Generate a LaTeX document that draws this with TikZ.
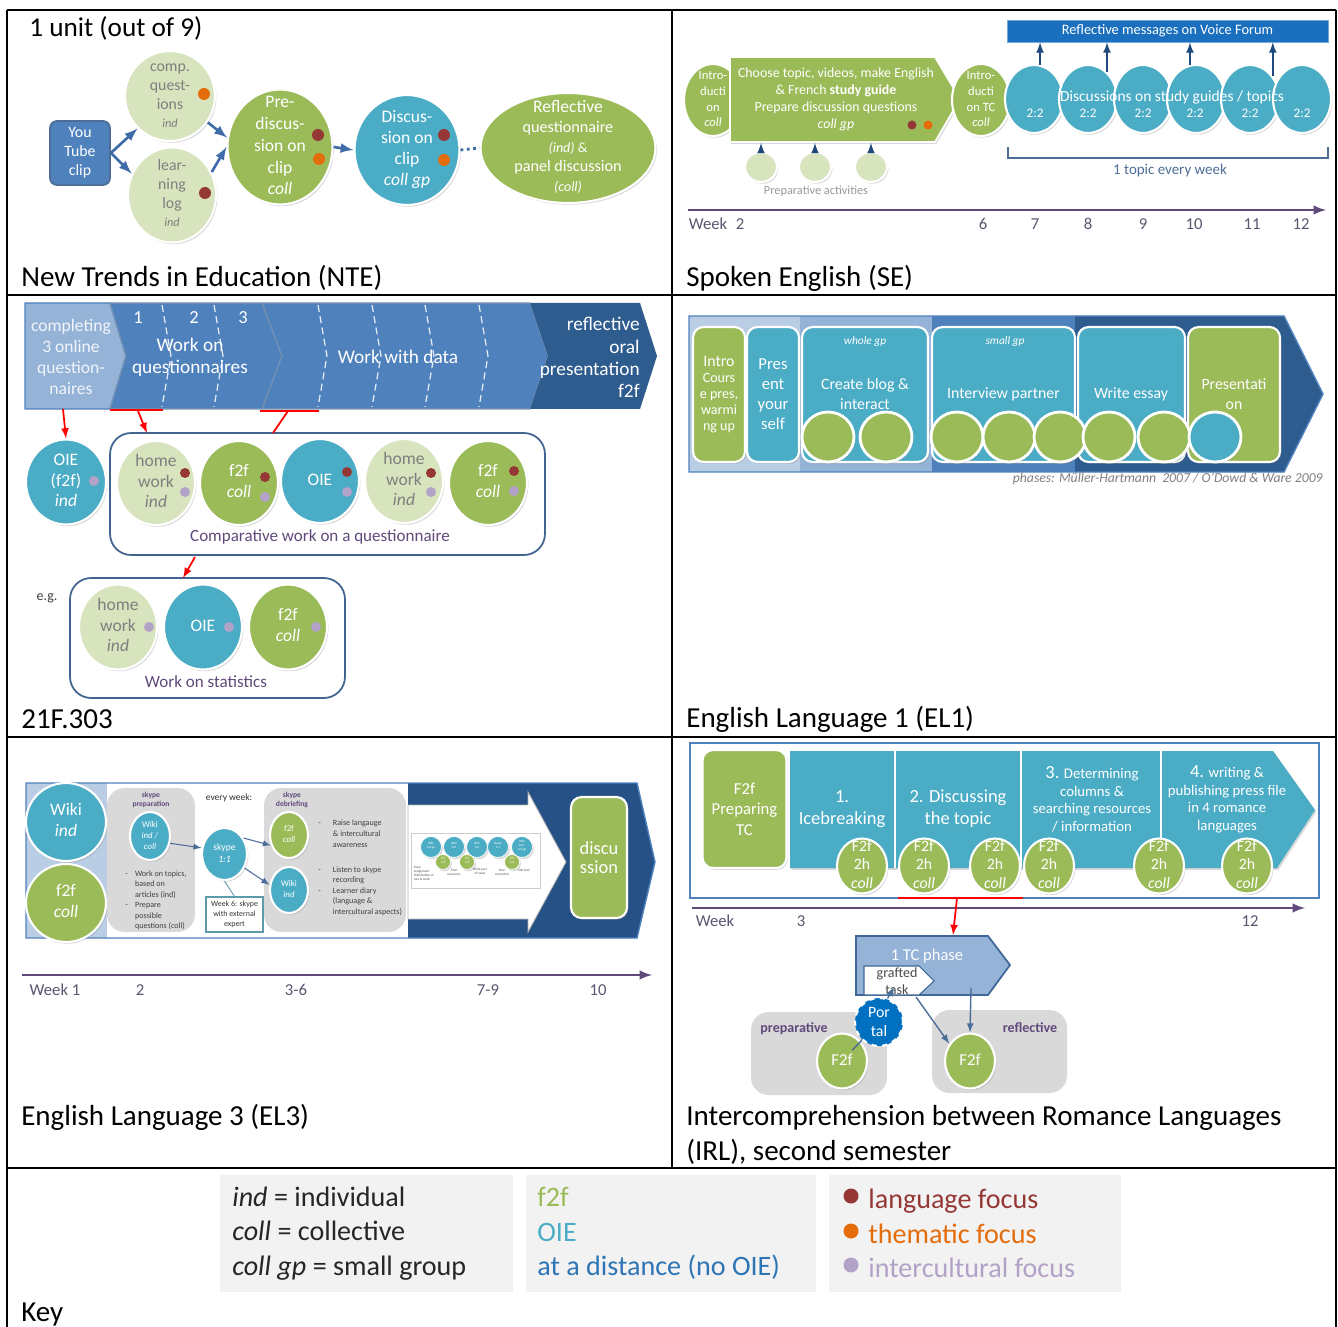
\documentclass[tikz,border=0pt]{standalone}
\usepackage{fontspec}
\setmainfont{Carlito}
\usepackage{tikz}
\usetikzlibrary{shapes,arrows,positioning,shadows}

\definecolor{cLeaf}{HTML}{9BBB59}
\definecolor{cPale}{HTML}{D7E4BD}
\definecolor{cSea}{HTML}{4BACC6}
\definecolor{cNavy}{HTML}{4F81BD}
\definecolor{cDeep}{HTML}{2F5C8F}
\definecolor{cInk}{HTML}{1F497D}
\definecolor{cSky}{HTML}{95B3D7}
\definecolor{cMist}{HTML}{B9CDE5}
\definecolor{cForum}{HTML}{1A6FBF}
\definecolor{cLang}{HTML}{953735}
\definecolor{cTheme}{HTML}{E46C0A}
\definecolor{cCult}{HTML}{B3A2C7}
\definecolor{cPlum}{HTML}{604A7B}
\definecolor{cStone}{HTML}{D9D9D9}
\definecolor{cKey}{HTML}{F2F2F2}
\definecolor{cFlow}{HTML}{3D6CA8}
\definecolor{cGrey}{HTML}{7F7F7F}
\definecolor{cPortal}{HTML}{0070C0}
\definecolor{cFar}{HTML}{2E75B6}
\definecolor{cTick}{HTML}{5B5670}

\newcommand{\fsz}[2]{\fontsize{#1}{#2}\selectfont}
\newcommand{\ctr}[1]{\smash{\makebox[0pt]{\raisebox{-0.25em}{\begin{tabular}{@{}c@{}}#1\end{tabular}}}}}

\begin{document}
\begin{tikzpicture}[x=0.02cm, y=-0.02cm]
	\tikzstyle{Blob}      = [ellipse, draw=white, line width=1.2pt, inner sep=0pt, text=white, drop shadow={opacity=0.3, shadow xshift=0.8pt, shadow yshift=-1pt}]
	\tikzstyle{PaleBlob}  = [Blob, fill=cPale, text=cGrey]
	\tikzstyle{GreenBlob} = [Blob, fill=cLeaf]
	\tikzstyle{SeaBlob}   = [Blob, fill=cSea]
	\tikzstyle{Tile}      = [rounded corners=6pt, draw=white, line width=1.2pt, inner sep=0pt, align=center, text=white, drop shadow={opacity=0.3, shadow xshift=0.8pt, shadow yshift=-1pt}]
	\tikzstyle{Caption}   = [anchor=west, inner sep=0pt, align=left, font=\fsz{16.5}{19.9}]
	\tikzstyle{Rule}      = [line width=1pt, black]
	\tikzstyle{Flow}      = [-latex, line width=1.5pt, cFlow]
	\tikzstyle{Link}      = [cInk!80, line width=0.8pt]
	\tikzstyle{Time}      = [-latex, line width=1.4pt, cPlum]
	\tikzstyle{RedLine}   = [red, line width=1pt]
	\tikzstyle{RedArrow}  = [RedLine, -latex]
	\tikzstyle{Tick}      = [inner sep=0pt, font=\fsz{9.5}{11}, text=cTick]
	\tikzstyle{Label}     = [inner sep=0pt, align=center, text=white]
	\tikzstyle{Frame}     = [draw=cInk!85, line width=1pt, rounded corners=12pt, fill=white, inner sep=0pt]
	\tikzstyle{Stone}     = [fill=cStone, rounded corners=10pt, inner sep=0pt]

	\useasboundingbox (0,0) rectangle (1338,1327);
	\fill[white] (0,0) rectangle (1338,1327);

	% table
	\draw[Rule] (7,10) -- (1336,10) (7,295) -- (1336,295) (7,737) -- (1336,737) (7,1168) -- (1336,1168);
	\draw[Rule] (7,10) -- (7,1327) (1336,10) -- (1336,1327) (672,10) -- (672,1168);

	%% New Trends in Education
	\node (unit) [anchor=west, inner sep=0pt, font=\fsz{15.5}{18}] at (29,28) {1 unit (out of 9)};
	\node (yt) [draw=cInk!80, fill=cNavy, line width=1pt, rounded corners=4pt, minimum width=1.2cm, minimum height=1.28cm, Label, font=\fsz{9}{10.8}] at (80,153) {You\\Tube\\clip};
	\node (comp) [PaleBlob, minimum width=1.8cm, minimum height=1.8cm, font=\fsz{9}{10.6}] at (170,96) {\ctr{comp.\\quest-\\ions\\{\fsz{7}{8}\itshape ind}}};
	\node (lear) [PaleBlob, minimum width=1.76cm, minimum height=1.9cm, font=\fsz{9}{10.6}] at (172,195) {\ctr{lear-\\ning\\log\\{\fsz{7}{8}\itshape ind}}};
	\node (pre) [GreenBlob, minimum width=2.1cm, minimum height=2.3cm, font=\fsz{10}{12.4}] at (280,147) {\ctr{Pre-\\discus-\\sion on\\clip\\\textit{coll}}};
	\node (disc) [SeaBlob, minimum width=2.1cm, minimum height=2.2cm, font=\fsz{10}{12}] at (407,150) {\ctr{Discus-\\sion on\\clip\\\textit{coll gp}}};
	\node (refl) [GreenBlob, minimum width=3.5cm, minimum height=2.2cm, font=\fsz{9.2}{11.2}] at (568,148) {\ctr{{\fsz{10}{11.2}Reflective}\\questionnaire\\{\fsz{8}{11.2}\textit{(ind)} \&}\\panel discussion\\{\fsz{8}{11.2}\textit{(coll)}}}};

	\draw[Flow] (yt.east) -- (comp.225);
	\draw[Flow] (yt.east) -- (lear.152);
	\draw[Flow] (comp.-35) -- (pre.170);
	\draw[Flow] (lear.30) -- (pre.180);
	\draw[Flow] (pre.east) -- (disc.west);
	\draw[cFlow, line width=1.6pt, dotted] (disc.east) -- (refl.west);

	\foreach \x/\y/\c in {204/94/cTheme, 205/193/cLang, 318/135/cLang, 319/159/cTheme, 444/135/cLang, 444/160/cTheme}
		\fill[\c] (\x,\y) circle (0.12cm);

	\node (nte) [Caption] at (21,278) {New Trends in Education (NTE)};

	%% Spoken English
	\node (forum) [fill=cForum, draw=cForum!60!white, minimum width=6.42cm, minimum height=0.44cm, Label, font=\fsz{8.2}{10}] at (1167.5,31) {Reflective messages on Voice Forum};
	\node (intro1) [GreenBlob, minimum width=1.16cm, minimum height=1.44cm, font=\fsz{7.2}{8.9}] at (713,100) {\ctr{Intro-\\ducti\\on\\\textit{coll}}};
	\fill[cLeaf, draw=white, line width=1pt, drop shadow={opacity=0.3, shadow xshift=0.8pt, shadow yshift=-1pt}] (730,57) -- (935,57) -- (960,99) -- (935,142) -- (730,142) -- cycle;
	\node (guide) [Label, font=\fsz{7.9}{9.7}] at (836,99.5) {Choose topic, videos, make English\\\& French \textbf{study guide}\\Prepare discussion questions\\\textit{coll gp}};
	\fill[cLang] (912,125) circle (0.09cm);
	\fill[cTheme] (928,125) circle (0.09cm);
	\node (intro2) [GreenBlob, minimum width=1.16cm, minimum height=1.44cm, font=\fsz{7.2}{8.9}] at (981,100) {\ctr{Intro-\\ducti\\on TC\\\textit{coll}}};

	\foreach \i/\x in {1/1034, 2/1088, 3/1143, 4/1196, 5/1250, 6/1302}
		\node (d\i) [SeaBlob, minimum width=1.16cm, minimum height=1.36cm] at (\x,99) {};
	\foreach \i/\x in {1/1035, 2/1088, 3/1143, 4/1195, 5/1250, 6/1302}
		\node (pair\i) [Label, font=\fsz{7.5}{9}] at (\x,113) {2:2};
	\node (topics) [Label, font=\fsz{8.8}{10}] at (1172,97) {Discussions on study guides / topics};

	\draw[-latex, line width=1pt, cInk] (d1.80) -- (d1.80 |- forum.south);
	\draw[-latex, line width=1pt, cInk] (d2.55) -- (d2.55 |- forum.south);
	\draw[-latex, line width=1pt, cInk] (d4.100) -- (d4.100 |- forum.south);
	\draw[-latex, line width=1pt, cInk] (d5.45) -- (d5.45 |- forum.south);

	\draw[cInk!80, line width=1pt] (1008,147) -- (1008,158) -- (1328,158) -- (1328,147);
	\node (everyweek) [inner sep=0pt, text=cInk!80, font=\fsz{8.5}{10}] at (1170,171) {1 topic every week};

	\coordinate (gbase) at (838,143);
	\foreach \i/\x in {1/761, 2/815, 3/871} {
		\node (p\i) [PaleBlob, minimum width=0.64cm, minimum height=0.6cm] at (\x,167) {};
		\draw[-latex, line width=1pt, cInk] (p\i.north) -- (p\i.north |- gbase);
	}
	\node (prepact) [inner sep=0pt, text=cGrey!80, font=\fsz{7}{8}] at (816,191) {Preparative activities};

	\coordinate (se0) at (688,210);
	\coordinate (se1) at (1326,210);
	\draw[Time] (se0) -- (se1);
	\foreach \i/\x/\t in {a/708/Week, b/740/2, c/983/6, d/1035/7, e/1088/8, f/1143/9, g/1194/10, h/1252/11, i/1301/12}
		\node (se\i) [Tick] at (\x,224) {\t};

	\node (se) [Caption] at (686,278) {Spoken English (SE)};

	%% 21F.303
	\fill[cSky, draw=cNavy, line width=0.8pt] (25,303) -- (110,303) -- (126,356) -- (110,409) -- (25,409) -- cycle;
	\fill[cNavy, draw=cInk!60, line width=0.6pt] (110,303) -- (262,303) -- (282,356) -- (262,409) -- (110,409) -- (126,356) -- cycle;
	\fill[cNavy, draw=cInk!60, line width=0.6pt] (262,303) -- (530,303) -- (548,356) -- (530,409) -- (262,409) -- (282,356) -- cycle;
	\fill[cDeep] (530,303) -- (640,303) -- (657,356) -- (640,409) -- (530,409) -- (548,356) -- cycle;
	\foreach \x in {162,214,318,372,425,479}
		\draw[white!85!cNavy, line width=0.7pt, dash pattern=on 4pt off 2.5pt] (\x,305) -- (\x+9,356) -- (\x,407);

	\node (online) [Label, text=white!92!cNavy, font=\fsz{10}{12}] at (71,357) {completing\\3 online\\question-\\naires};
	\foreach \i/\x in {1/138, 2/194, 3/243}
		\node (n\i) [Label, font=\fsz{10.5}{12}] at (\x,318) {\i};
	\node (wq) [Label, font=\fsz{11}{12.6}] at (190,357) {Work on\\questionnaires};
	\node (wd) [Label, font=\fsz{11}{12.6}] at (398,357) {Work with data};
	\node (oral) [anchor=east, inner sep=0pt, align=right, text=white, font=\fsz{11}{12.7}] at (640,357.5) {reflective\\oral\\presentation\\f2f};

	\node (cmp) [Frame, minimum width=8.7cm, minimum height=2.44cm] at (327.5,494) {};
	\node (cmpt) [inner sep=0pt, text=cPlum, font=\fsz{9.7}{11}] at (320,537) {Comparative work on a questionnaire};
	\node (oie0) [SeaBlob, minimum width=1.6cm, minimum height=1.7cm, font=\fsz{10}{11.7}] at (66,482) {\ctr{OIE\\(f2f)\\\textit{ind}}};
	\node (hw1) [PaleBlob, minimum width=1.56cm, minimum height=1.68cm, font=\fsz{10}{11.7}] at (156,483) {\ctr{home\\work\\\textit{ind}}};
	\node (ff1) [GreenBlob, minimum width=1.56cm, minimum height=1.68cm, font=\fsz{10}{11.7}] at (239,483) {\ctr{f2f\\\textit{coll}}};
	\node (oie1) [SeaBlob, minimum width=1.56cm, minimum height=1.68cm, font=\fsz{10}{11.7}] at (320,481) {\ctr{OIE}};
	\node (hw2) [PaleBlob, minimum width=1.56cm, minimum height=1.68cm, font=\fsz{10}{11.7}] at (404,481) {\ctr{home\\work\\\textit{ind}}};
	\node (ff2) [GreenBlob, minimum width=1.56cm, minimum height=1.68cm, font=\fsz{10}{11.7}] at (488,483) {\ctr{f2f\\\textit{coll}}};

	\node (eg) [inner sep=0pt, text=black!75, font=\fsz{8}{9}] at (47,598) {e.g.};
	\node (stat) [Frame, minimum width=5.5cm, minimum height=2.4cm] at (207.5,638) {};
	\node (statt) [inner sep=0pt, text=cPlum, font=\fsz{9.7}{11}] at (206,682) {Work on statistics};
	\node (hw3) [PaleBlob, minimum width=1.56cm, minimum height=1.7cm, font=\fsz{10}{11.7}] at (118,627) {\ctr{home\\work\\\textit{ind}}};
	\node (oie3) [SeaBlob, minimum width=1.56cm, minimum height=1.7cm, font=\fsz{10}{11.7}] at (203,627) {\ctr{OIE}};
	\node (ff3) [GreenBlob, minimum width=1.56cm, minimum height=1.7cm, font=\fsz{10}{11.7}] at (288,627) {\ctr{f2f\\\textit{coll}}};

	\foreach \x/\y/\c in {94/481/cCult, 185/473/cLang, 185/492/cCult, 265/477/cLang, 265/497/cCult, 347/472/cLang, 347/492/cCult, 431/473/cLang, 431/492/cCult, 514/471/cLang, 514/491/cCult, 149/627/cCult, 229/627/cCult, 316/627/cCult}
		\fill[\c] (\x,\y) circle (0.1cm);

	\draw[RedLine] (110,410) -- (163,410);
	\draw[RedLine] (260,411) -- (319,411);
	\coordinate (ra) at (63,409);
	\coordinate (rb) at (138,411);
	\coordinate (rc) at (147,433);
	\coordinate (rd) at (288,411);
	\coordinate (re) at (273,433);
	\coordinate (rf) at (195,557);
	\coordinate (rg) at (183,578);
	\draw[RedArrow] (ra) -- (oie0.north);
	\draw[RedArrow] (rb) -- (rc);
	\draw[RedLine] (rd) -- (re);
	\draw[RedArrow] (rf) -- (rg);

	\node (f303) [Caption] at (21,719) {21F.303};

	%% English Language 1
	\fill[cMist] (689,316) rectangle (800,472);
	\fill[cSky] (800,316) rectangle (932,472);
	\fill[cNavy] (932,316) rectangle (1075,472);
	\fill[cDeep] (1075,316) -- (1284,316) -- (1323,394) -- (1284,472) -- (1075,472) -- cycle;
	\draw[cNavy, line width=0.8pt] (689,316) -- (1284,316) -- (1323,394) -- (1284,472) -- (689,472) -- cycle;

	\node (intro) [Tile, fill=cLeaf, minimum width=1.04cm, minimum height=2.7cm, font=\fsz{8}{9.2}] at (719,394.5) {{\fsz{9}{9.2}Intro}\\Cours\\e pres,\\warmi\\ng up};
	\node (pres) [Tile, fill=cSea, minimum width=1.04cm, minimum height=2.7cm, font=\fsz{9.5}{11.4}] at (773,394.5) {Pres\\ent\\your\\self};
	\node (blog) [Tile, fill=cSea, minimum width=2.52cm, minimum height=2.7cm] at (865,394.5) {};
	\node (intv) [Tile, fill=cSea, minimum width=2.86cm, minimum height=2.7cm] at (1003.5,394.5) {};
	\node (essay) [Tile, fill=cSea, minimum width=2.14cm, minimum height=2.7cm] at (1131.5,394.5) {};
	\node (show) [Tile, fill=cLeaf, minimum width=1.84cm, minimum height=2.7cm, font=\fsz{9}{11.4}] at (1234,394.5) {Presentati\\on};
	\node (whole) [Label, font=\fsz{6.5}{8}\itshape] at (865,342) {whole gp};
	\node (blogt) [Label, font=\fsz{9}{11.4}] at (865,394) {Create blog \&\\interact};
	\node (small) [Label, font=\fsz{6.5}{8}\itshape] at (1005,342) {small gp};
	\node (intvt) [Label, font=\fsz{9}{11}] at (1003.5,394) {Interview partner};
	\node (essayt) [Label, font=\fsz{9}{11}] at (1131,394) {Write essay};
	\foreach \i/\x in {1/828, 2/886, 3/957, 4/1009, 5/1060, 6/1109, 7/1164}
		\node (g\i) [GreenBlob, line width=1.6pt, minimum width=1.04cm, minimum height=1cm] at (\x,437) {};
	\node (g8) [SeaBlob, line width=1.6pt, minimum width=1.04cm, minimum height=1cm] at (1215,437) {};
	\node (phases) [anchor=east, inner sep=0pt, text=black!50, font=\fsz{7.8}{9}\itshape] at (1323,479) {phases: Müller-Hartmann\ \ 2007 / O’Dowd \& Ware 2009};

	\node (el1) [Caption] at (686,719) {English Language 1 (EL1)};

	%% English Language 3
	\fill[cMist] (26,783) rectangle (107,938);
	\fill[white] (107,783) rectangle (408,938);
	\fill[cInk!85!cNavy] (408,783) -- (637,783) -- (655,862) -- (637,938) -- (408,938) -- cycle;
	\draw[cNavy, line width=0.8pt] (26,783) -- (637,783) -- (655,862) -- (637,938) -- (26,938) -- cycle;

	\node (wiki0) [SeaBlob, minimum width=1.6cm, minimum height=1.56cm, font=\fsz{10}{12}] at (66,822) {\ctr{Wiki\\\textit{ind}}};
	\node (f2f0) [GreenBlob, minimum width=1.6cm, minimum height=1.56cm, font=\fsz{10}{12}] at (66,903) {\ctr{f2f\\\textit{coll}}};

	\node (prepbox) [Stone, minimum width=1.76cm, minimum height=2.88cm] at (151,860) {};
	\node (debrief) [Stone, minimum width=2.84cm, minimum height=2.88cm] at (335,860) {};
	\node (skp) [Label, text=cPlum, font=\fsz{4.3}{5.4}\bfseries] at (151,800) {skype\\preparation};
	\node (skd) [Label, text=cPlum, font=\fsz{4.3}{5.4}\bfseries] at (292,800) {skype\\debriefing};
	\node (ew) [inner sep=0pt, text=black!80, font=\fsz{5.4}{6.5}] at (229,798) {every week:};
	\node (wikp) [SeaBlob, minimum width=0.8cm, minimum height=0.96cm, font=\fsz{5}{6.2}] at (150,836) {\ctr{Wiki\\\textit{ind /}\\\textit{coll}}};
	\node (skype) [SeaBlob, minimum width=0.9cm, minimum height=1.04cm, font=\fsz{5.5}{6.6}] at (224.5,854) {\ctr{skype\\\textit{1:1}}};
	\node (wk6) [draw=cSea!60!gray, fill=white, line width=0.6pt, minimum width=1.14cm, minimum height=0.7cm, inner sep=0pt, align=center, text=black!80, font=\fsz{4.5}{5.6}] at (234.5,914.5) {Week 6: skype\\with external\\expert};
	\node (ffd) [GreenBlob, minimum width=0.76cm, minimum height=0.92cm, font=\fsz{5}{6.2}] at (289,835) {\ctr{f2f\\\textit{coll}}};
	\node (wkd) [SeaBlob, minimum width=0.76cm, minimum height=0.92cm, font=\fsz{5}{6.2}] at (289,890) {\ctr{Wiki\\\textit{ind}}};
	\draw[-latex, cInk!80, line width=0.6pt] (wikp.-20) -- (skype.165);
	\draw[-latex, cInk!80, line width=0.6pt] (skype.40) -- (ffd.210);
	\draw[-latex, cInk!80, line width=0.6pt] (skype.-35) -- (wkd.165);
	\draw[cSea!60!gray, line width=0.5pt] (skype.south) -- (wk6.north);

	\node (prepnote) [anchor=north west, inner sep=0pt, text=black!75, font=\fsz{4.6}{5.9}] at (125,869) {\begin{tabular}{@{}l@{\hspace{0.9em}}l@{}}- & Work on topics,\\ & based on\\ & articles (ind)\\- & Prepare\\ & possible\\ & questions (coll)\end{tabular}};
	\node (raise) [anchor=north west, inner sep=0pt, text=black!75, font=\fsz{4.6}{6.2}] at (318,818) {\begin{tabular}{@{}l@{\hspace{1.5em}}l@{}}- & Raise langauge\\ & \& intercultural\\ & awareness\end{tabular}};
	\node (listen) [anchor=north west, inner sep=0pt, text=black!75, font=\fsz{4.6}{5.9}] at (318,865) {\begin{tabular}{@{}l@{\hspace{1.5em}}l@{}}- & Listen to skype\\ & recording\\- & Learner diary\\ & (language \&\\ & intercultural aspects)\end{tabular}};

	\fill[white, draw=gray!60, line width=0.5pt] (408,805) -- (528,805) -- (528,792) -- (566,862) -- (528,932) -- (528,919) -- (408,919) -- cycle;
	\draw[gray!40, line width=0.4pt] (411,833) rectangle (540,888);
	\foreach \i/\x/\t in {1/431/{Wiki\\coll gp}, 2/454/{Wiki\\ind}, 3/477/{Wiki\\ind}, 4/498/{Skype\\1:1}, 5/522/{Wiki\\ind /\\coll gp}}
		\node (cb\i) [SeaBlob, line width=0.4pt, minimum width=0.42cm, minimum height=0.42cm, font=\fsz{1.8}{2.2}] at (\x,847) {\ctr{\t}};
	\foreach \i/\x in {1/443, 2/467, 3/512}
		\node (cg\i) [GreenBlob, line width=0.4pt, minimum width=0.3cm, minimum height=0.3cm, font=\fsz{1.8}{2.2}] at (\x,862) {\ctr{f2f\\coll}};
	\node (ca) [anchor=north west, inner sep=0pt, align=left, text=black!70, font=\fsz{1.9}{2.3}] at (412,866) {- Topic\\\ \ assignment\\- Distribution of\\\ \ role \& work};
	\node (cc) [inner sep=0pt, align=center, text=black!70, font=\fsz{1.9}{2.3}] at (454,872) {Final\\resources};
	\node (cd) [inner sep=0pt, align=center, text=black!70, font=\fsz{1.9}{2.3}] at (480,872) {Write part\\of essay};
	\node (ce) [inner sep=0pt, align=center, text=black!70, font=\fsz{1.9}{2.3}] at (502,872) {Peer\\correction};
	\node (cf) [inner sep=0pt, align=center, text=black!70, font=\fsz{1.9}{2.3}] at (524,870) {Edit text};

	\node (disc3) [Tile, fill=cLeaf, minimum width=1.12cm, minimum height=2.42cm, font=\fsz{10.5}{10.8}] at (599,857.5) {discu\\ssion};

	\coordinate (el0) at (22,975);
	\coordinate (el1) at (652,975);
	\draw[Time] (el0) -- (el1);
	\foreach \i/\x/\t in {a/55/Week 1, b/140/2, c/296/3-6, d/488/7-9, e/598/10}
		\node (el\i) [Tick] at (\x,990) {\t};

	\node (el3) [Caption] at (21,1117) {English Language 3 (EL3)};

	%% Intercomprehension between Romance Languages
	\node (frame) [draw=cNavy, line width=1pt, minimum width=12.58cm, minimum height=3.1cm, inner sep=0pt] at (1004.5,820.5) {};
	\node (tc0) [Tile, fill=cLeaf, minimum width=1.68cm, minimum height=2.36cm, font=\fsz{9.5}{11.7}] at (744.5,809) {F2f\\Preparing\\TC};
	\fill[cSea, drop shadow={opacity=0.3, shadow xshift=0.8pt, shadow yshift=-1pt}] (790,751) -- (1273,751) -- (1315,810) -- (1277,868) -- (790,868) -- cycle;
	\foreach \x in {895,1021,1161}
		\draw[white, line width=1.5pt] (\x,751) -- (\x,868);
	\node (ice) [Label, font=\fsz{10.5}{12.5}] at (842,809) {1.\\Icebreaking};
	\node (topic) [Label, font=\fsz{10.5}{12.5}] at (958,809) {2. Discussing\\the topic};
	\node (cols) [Label, font=\fsz{8.4}{10}] at (1092,799.5) {{\fsz{10.5}{10}3.} Determining\\columns \&\\searching resources\\/ information};
	\node (press) [Label, font=\fsz{8.4}{10}] at (1227,799.5) {{\fsz{10.5}{10}4.} writing \&\\publishing press file\\in 4 romance\\languages};
	\foreach \i/\x in {1/862, 2/924, 3/995, 4/1049, 5/1159, 6/1247}
		\node (fc\i) [GreenBlob, minimum width=1cm, minimum height=1.1cm, font=\fsz{9}{10.5}] at (\x,866) {\ctr{F2f\\2h\\\textit{coll}}};

	\coordinate (ir0) at (692,908);
	\coordinate (ir1) at (1305,908);
	\draw[Time] (ir0) -- (ir1);
	\foreach \i/\x/\t in {a/715/Week, b/801/3, c/1250/12}
		\node (ir\i) [Tick] at (\x,921) {\t};

	\fill[cSky, draw=cNavy!80!black, line width=1pt] (856,936) -- (988,936) -- (1010,965) -- (988,995) -- (856,995) -- cycle;
	\node (tcp) [Label, font=\fsz{9.4}{11}] at (927,956) {1 TC phase};
	\fill[white, draw=cNavy!80!black, line width=0.6pt] (864,966) -- (919,966) -- (934,981) -- (919,995) -- (864,995) -- cycle;
	\node (gtask) [Label, text=black!70, font=\fsz{8}{9.6}] at (897,981) {grafted\\task};

	\draw[RedLine] (898,898) -- (1023,898);
	\coordinate (rh) at (957,898);
	\coordinate (ri) at (953,935);
	\draw[RedArrow] (rh) -- (ri);

	\node (prepb) [Stone, minimum width=2.72cm, minimum height=1.66cm] at (819,1053.5) {};
	\node (reflb) [Stone, minimum width=2.7cm, minimum height=1.66cm] at (999.5,1051.5) {};
	\node (prept) [inner sep=0pt, text=cPlum, font=\fsz{8}{9}\bfseries] at (794,1029) {preparative};
	\node (reflt) [inner sep=0pt, text=cPlum, font=\fsz{8}{9}\bfseries] at (1030,1028) {reflective};
	\node (prepF) [GreenBlob, minimum width=1cm, minimum height=1.1cm, font=\fsz{9.5}{11}] at (842,1061) {\ctr{F2f}};
	\node (reflF) [GreenBlob, minimum width=1cm, minimum height=1.1cm, font=\fsz{9.5}{11}] at (970,1061) {\ctr{F2f}};
	\coordinate (pc) at (879,1022);
	\draw[Link, shorten <=0.3cm] (prepF.center) -- (pc);
	\node (portal) [circle, fill=cPortal, draw=white, dashed, line width=1.2pt, minimum size=0.96cm, inner sep=0pt, align=center, text=white, font=\fsz{9}{10.5}] at (pc) {Por\\tal};
	\coordinate (gt) at (894,987);
	\coordinate (gu) at (916,997);
	\coordinate (tcb) at (971,988);
	\draw[Link, -latex] (portal.70) -- (gt);
	\draw[Link, -latex] (gu) -- (reflF.140);
	\draw[Link, -latex] (tcb) -- (reflF.north);

	\node (irl) [Caption] at (686,1134.5) {Intercomprehension between Romance Languages\\(IRL), second semester};

	%% Key
	\node (k1) [fill=cKey, minimum width=5.86cm, minimum height=2.34cm, inner sep=0pt] at (366.5,1233.5) {};
	\node (k2) [fill=cKey, minimum width=5.8cm, minimum height=2.34cm, inner sep=0pt] at (671,1233.5) {};
	\node (k3) [fill=cKey, minimum width=5.84cm, minimum height=2.34cm, inner sep=0pt] at (975,1233.5) {};
	\node (k1t) [anchor=west, align=left, inner sep=0pt, text=black!85, font=\fsz{16}{19.6}] at (232,1233.5) {\textit{ind} = individual\\\textit{coll} = collective\\\textit{coll gp} = small group};
	\node (k2t) [anchor=west, align=left, inner sep=0pt, font=\fsz{16}{19.6}] at (537,1233.5) {\textcolor{cLeaf}{f2f}\\\textcolor{cSea}{OIE}\\\textcolor{cFar}{at a distance (no OIE)}};
	\node (k3t) [anchor=west, align=left, inner sep=0pt, font=\fsz{16}{19.6}] at (868,1233.5) {\textcolor{cLang}{language focus}\\\textcolor{cTheme}{thematic focus}\\\textcolor{cCult}{intercultural focus}};
	\foreach \y/\c in {1196/cLang, 1231/cTheme, 1265/cCult}
		\fill[\c] (851,\y) circle (0.15cm);
	\node (key) [Caption] at (21,1315) {Key};
\end{tikzpicture}
\end{document}
